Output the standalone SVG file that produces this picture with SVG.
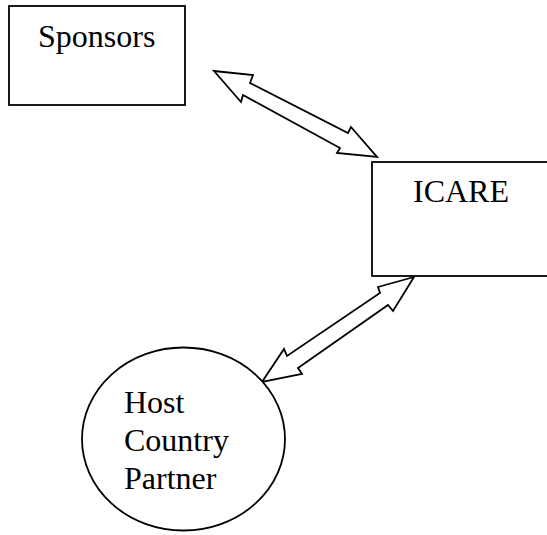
<svg xmlns="http://www.w3.org/2000/svg" width="547" height="535" viewBox="0 0 547 535">
<style>
.shape{fill:#fff;stroke:#000;stroke-width:1.8}
.arrow{fill:#fff;stroke:#000;stroke-width:1.8;stroke-linejoin:miter}
text{font-family:"Liberation Serif","Times New Roman",serif;font-size:32px;fill:#000}
</style>
<rect width="547" height="535" fill="#fff"/>
<g id="connectors">
<polygon class="arrow" points="214,71 253,75 250,83 348,133 351,127 377,157 337,153 340,148 243,95 241,102"/>
<polygon class="arrow" points="414,277 378,287 380,293 287,356 284,349 262,382 302,374 298,368 388,305 393,311"/>
</g>
<g id="sponsors">
<rect class="shape" x="9" y="6" width="176" height="99"/>
<text x="38" y="47">Sponsors</text>
</g>
<g id="icare">
<rect class="shape" x="372" y="162" width="190" height="114"/>
<text x="413" y="202">ICARE</text>
</g>
<g id="host">
<ellipse class="shape" cx="183.5" cy="439" rx="101.5" ry="91.5"/>
<text x="124" y="413">Host</text>
<text x="124" y="451">Country</text>
<text x="124" y="489">Partner</text>
</g>
</svg>
